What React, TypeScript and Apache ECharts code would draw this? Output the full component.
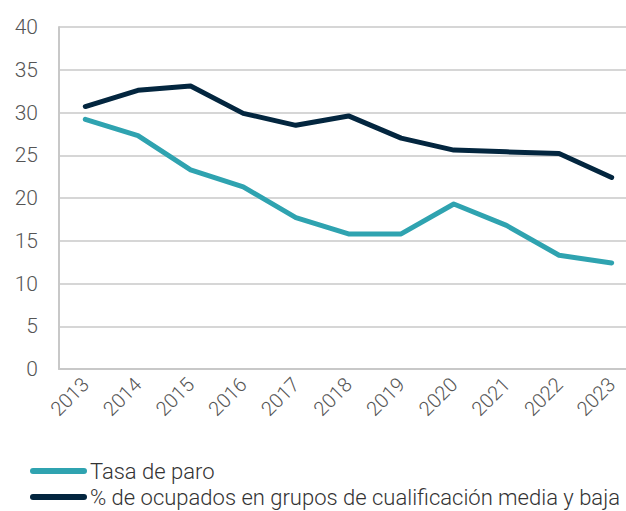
import React, { useEffect, useRef } from "react";
import * as echarts from "echarts";

const years = ["2013", "2014", "2015", "2016", "2017", "2018", "2019", "2020", "2021", "2022", "2023"];
const tasaParo = [29.2, 27.3, 23.3, 21.3, 17.7, 15.8, 15.8, 19.3, 16.8, 13.3, 12.4];
const ocupados = [30.7, 32.6, 33.1, 29.9, 28.5, 29.6, 27.0, 25.6, 25.4, 25.2, 22.4];
const yTicks = { min: 0, max: 40, interval: 5 };
const seriesNames = ["Tasa de paro", "% de ocupados en grupos de cualificación media y baja"];

const FONT = "Roboto";
const TEAL = "#2fa3b0";
const NAVY = "#03263f";
const ICON = "path://M3,0L54,0A3,3,0,0,1,54,6L3,6A3,3,0,0,1,3,0Z";

const legendBase = {
  orient: "horizontal",
  left: 30,
  padding: 0,
  itemWidth: 57,
  itemHeight: 6,
  selectedMode: false,
  textStyle: { fontFamily: FONT, fontSize: 22, lineHeight: 20, fontWeight: 300, color: "#333", padding: [0, 0, 0, -2] },
};

export default function App() {
  const ref = useRef<HTMLDivElement>(null);
  useEffect(() => {
    if (!ref.current) return;
    const chart = echarts.init(ref.current, undefined, { renderer: "svg" });
    chart.setOption({
      animation: false,
      grid: { left: 59, right: 2, top: 27, height: 342, containLabel: false },
      legend: [
        { ...legendBase, top: 460, data: [{ name: seriesNames[0], icon: ICON }] },
        { ...legendBase, top: 486, data: [{ name: seriesNames[1], icon: ICON }] },
      ],
      xAxis: {
        type: "category",
        data: years,
        boundaryGap: true,
        axisLine: { lineStyle: { color: "#c8c8c8", width: 2 } },
        axisTick: { show: false },
        axisLabel: { rotate: 45, margin: 12, fontFamily: FONT, fontSize: 20, fontWeight: 300, color: "#555" },
      },
      yAxis: {
        type: "value",
        min: yTicks.min,
        max: yTicks.max,
        interval: yTicks.interval,
        axisLine: { show: true, lineStyle: { color: "#c8c8c8", width: 2 } },
        axisTick: { show: false },
        splitLine: { lineStyle: { color: "#c8c8c8", width: 1.5 } },
        axisLabel: { margin: 21, fontFamily: FONT, fontSize: 21, fontWeight: 300, color: "#555" },
      },
      series: [
        {
          name: seriesNames[0],
          type: "line",
          data: tasaParo,
          symbol: "none",
          lineStyle: { color: TEAL, width: 5, cap: "round", join: "round" },
          itemStyle: { color: TEAL },
        },
        {
          name: seriesNames[1],
          type: "line",
          data: ocupados,
          symbol: "none",
          lineStyle: { color: NAVY, width: 5, cap: "round", join: "round" },
          itemStyle: { color: NAVY },
        },
      ],
    });
    return () => chart.dispose();
  }, []);
  return (
    <div style={{ width: 626, height: 511, position: "absolute", left: 0, top: 0, overflow: "hidden" }}>
      <div ref={ref} style={{ width: 640, height: 511 }} />
    </div>
  );
}
